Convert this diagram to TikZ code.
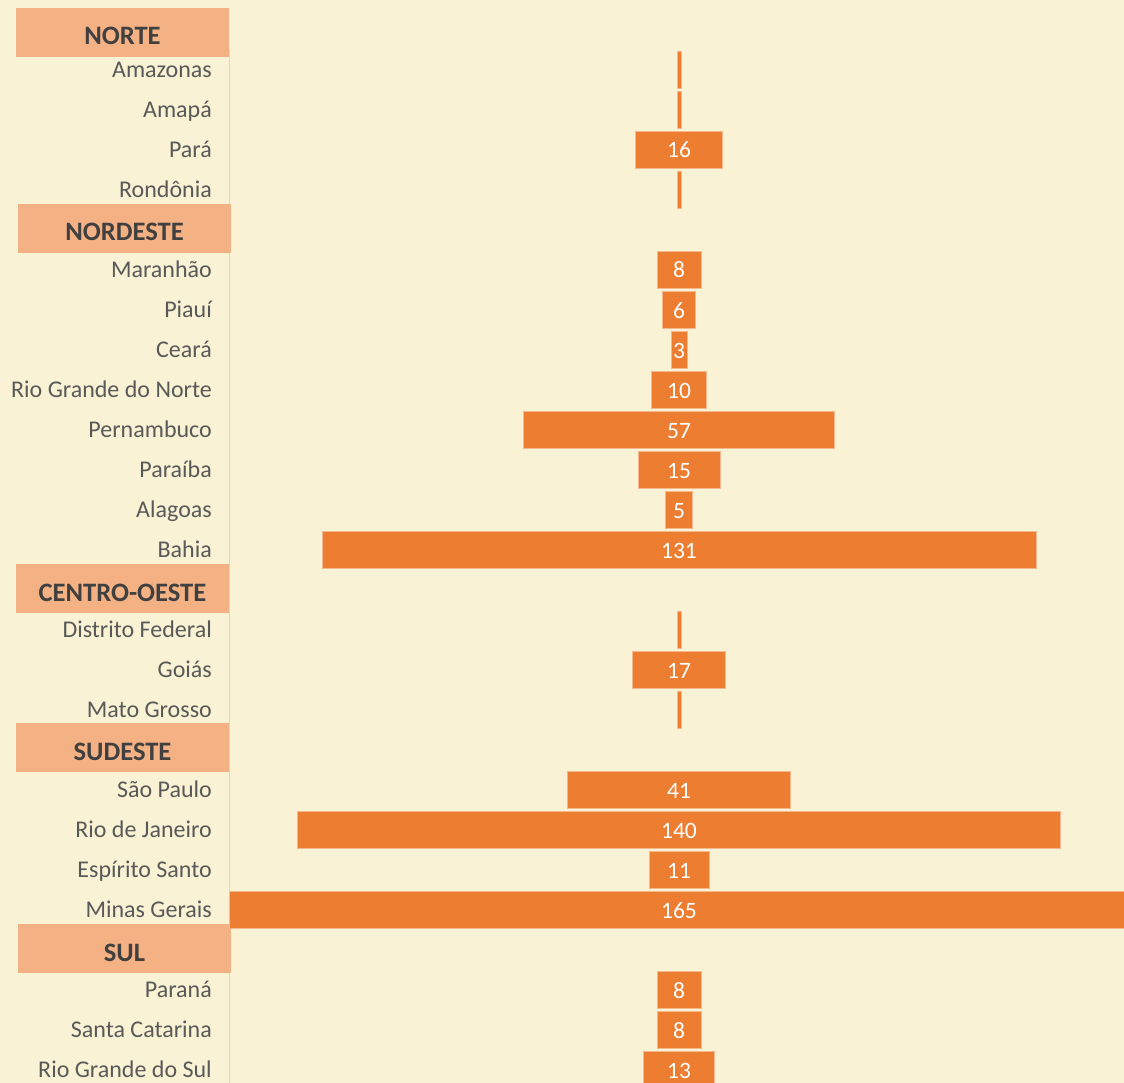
\documentclass[tikz,border=0pt]{standalone}
\usepackage{fontspec}
\setmainfont{Carlito}
\definecolor{bg}{HTML}{F9F2D4}
\definecolor{hdr}{HTML}{F4B183}
\definecolor{barc}{HTML}{ED7D31}
\definecolor{lbl}{HTML}{595959}
\definecolor{hdrtext}{HTML}{404040}
\definecolor{sepc}{HTML}{DCD8C8}
\begin{document}
\begin{tikzpicture}[x=1pt,y=-1pt,
  header/.style={fill=hdr, minimum width=213pt, minimum height=49pt, inner sep=0pt,
    text=hdrtext, font=\fontsize{26.6}{30}\selectfont\bfseries, text height=25pt, text depth=0pt},
  statelbl/.style={anchor=base east, text=lbl, inner sep=0pt, font=\fontsize{24}{28}\selectfont},
  barbox/.style={fill=barc, draw=barc!55!white, line width=0.6pt, minimum height=37pt,
    inner sep=0pt, text=white, font=\fontsize{23.5}{27}\selectfont, text height=17pt, text depth=0pt},
]
\useasboundingbox (0,0) rectangle (1124,1083);
\fill[bg] (0,0) rectangle (1124,1083);
% separator
\coordinate (sTop) at (229.5,49);
\coordinate (sBot) at (229.5,1083);
\draw[sepc, line width=1.6pt] (sTop) -- (sBot);
% headers
\node[header] (hN)  at (122.5,32.5) {NORTE};
\node[header] (hNE) at (124.5,228.5) {NORDESTE};
\node[header] (hCO) at (122.5,588.5) {CENTRO-OESTE};
\node[header] (hSE) at (122.5,747.5) {SUDESTE};
\node[header] (hS)  at (124.5,948.5) {SUL};
% states and bars
\foreach \i/\name/\y/\v/\t in {
  1/Amazonas/70/0/{},
  2/Amapá/110/0/{},
  3/Pará/150/16/16,
  4/Rondônia/190/0/{},
  5/Maranhão/270/8/8,
  6/Piauí/310/6/6,
  7/Ceará/350/3/3,
  8/Rio Grande do Norte/390/10/10,
  9/Pernambuco/430/57/57,
  10/Paraíba/470/15/15,
  11/Alagoas/510/5/5,
  12/Bahia/550/131/131,
  13/Distrito Federal/630/0/{},
  14/Goiás/670/17/17,
  15/Mato Grosso/710/0/{},
  16/São Paulo/790/41/41,
  17/Rio de Janeiro/830/140/140,
  18/Espírito Santo/870/11/11,
  19/Minas Gerais/910/165/165,
  20/Paraná/990/8/8,
  21/Santa Catarina/1030/8/8,
  22/Rio Grande do Sul/1070/13/13}{
  \pgfmathsetmacro\w{\v==0 ? 4 : \v*5.45}
  \node[statelbl] (lbl\i) at (212,\y+7.8) {\name};
  \node[barbox, minimum width=\w pt] (bar\i) at (679,\y-0.5) {\t};
}
\end{tikzpicture}
\end{document}
